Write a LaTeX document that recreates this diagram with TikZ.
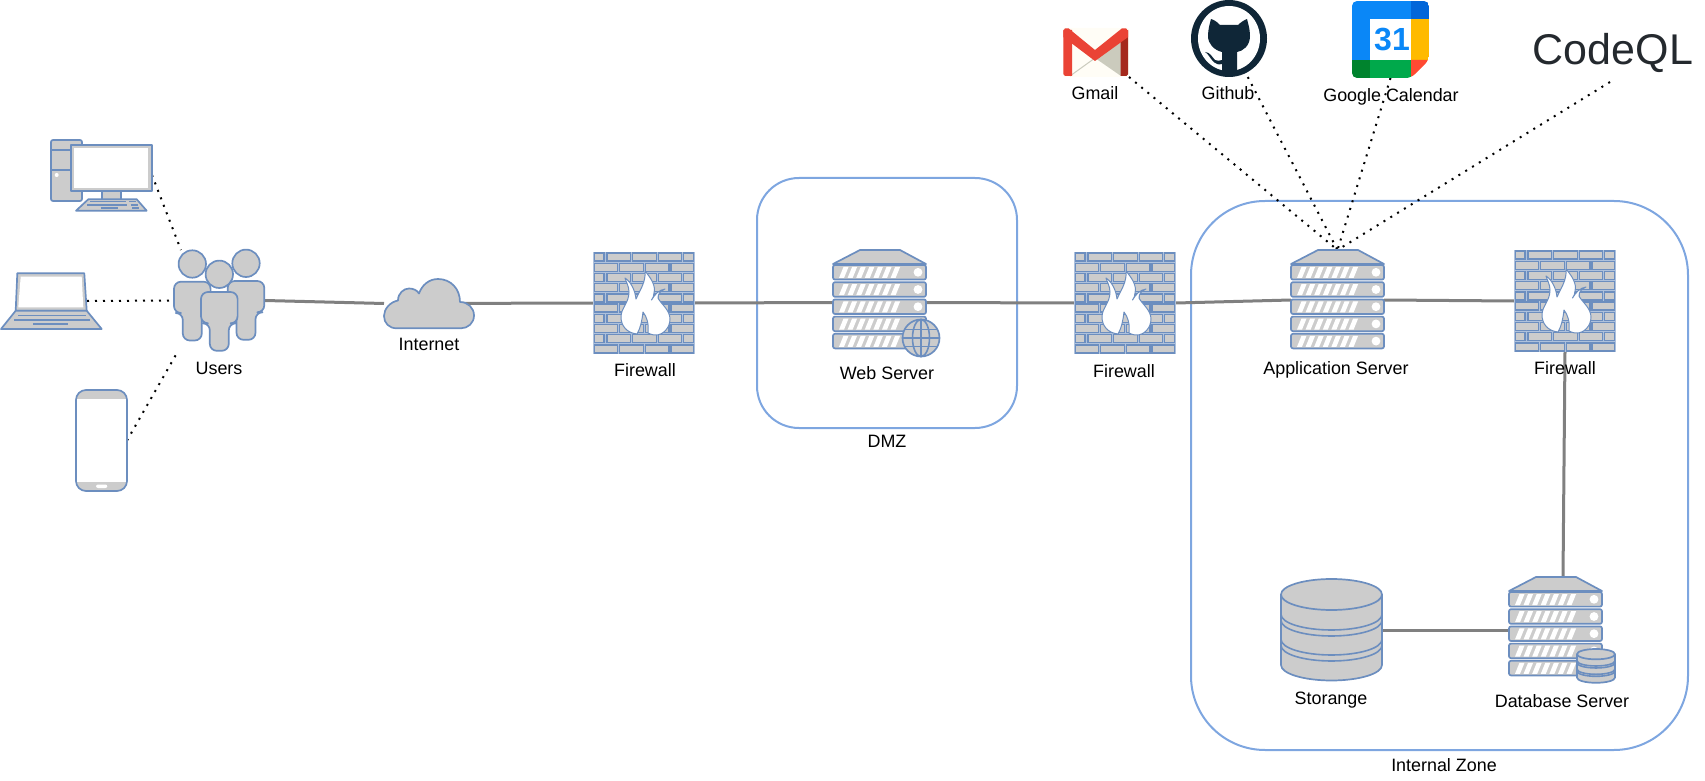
\documentclass[tikz,border=0pt]{standalone}
\usepackage{fontspec}
\setmainfont{Liberation Sans}
\usetikzlibrary{fit,calc}
\definecolor{zoneblue}{HTML}{7EA6E0}
\definecolor{iconblue}{HTML}{6C8EBF}
\definecolor{icongrey}{HTML}{CCCCCC}
\definecolor{linkgrey}{HTML}{808080}
\definecolor{ghdark}{HTML}{0F2637}
\definecolor{qlcolor}{HTML}{24292E}
\definecolor{gmred}{HTML}{EA4335}
\definecolor{gmdark}{HTML}{A5291C}
\definecolor{gmcream}{HTML}{FFFDF6}
\definecolor{gmgrey}{HTML}{CBCBBD}
\definecolor{calblue}{HTML}{0A87F7}
\definecolor{caldark}{HTML}{0266D9}
\definecolor{calyellow}{HTML}{FFBA00}
\definecolor{calgreen}{HTML}{00A94B}
\definecolor{caldgreen}{HTML}{00832D}
\definecolor{calred}{HTML}{FF4A32}
\tikzset{
  zone/.style={draw=zoneblue,line width=1pt,rounded corners=#1},
  iconbox/.style={inner sep=0pt,outer sep=0pt},
  lbl/.style={font=\fontsize{8.95}{10}\selectfont,text=black,inner sep=0pt},
  link/.style={draw=linkgrey,line width=1.5pt},
  dots/.style={draw=black,line width=1pt,dash pattern=on 1pt off 3pt},
  ic/.style={draw=iconblue,line width=.85pt,fill=icongrey,line join=round},
  brick/.style={draw=iconblue,line width=.75pt,fill=icongrey},
  ibar/.style={draw=iconblue,line width=.8pt},
}
% firewall icon: 102 x 102
\newcommand{\fwicon}[2]{%
\begin{scope}[shift={(#1,#2)}]
  \fill[iconblue!55!white] (0,0) rectangle (102,102);
  \foreach \r in {0,2,4,6,8}{%
    \foreach \a/\b in {1.5/11,14/37.5,39.5/63.5,65.5/88.5,90.5/100.5}
      \path[brick] (\a,{1.1+10.2*\r}) rectangle (\b,{9.1+10.2*\r});
    \foreach \a/\b in {1.5/24.5,26.5/50.5,52.5/76,78/100.5}
      \path[brick] (\a,{11.3+10.2*\r}) rectangle (\b,{19.3+10.2*\r});
  }
  \filldraw[fill=white,draw=iconblue,line width=.5pt,line join=round]
    (44,82) .. controls (34,81) and (28,74) .. (28,65)
    .. controls (28,56) and (36,51) .. (36,40)
    .. controls (36,34) and (33,30) .. (32,26)
    .. controls (38,30) and (42,38) .. (43,47)
    .. controls (47,38) and (53,30) .. (52,19)
    .. controls (58,26) and (63,34) .. (61,41)
    .. controls (61,44) and (60,46) .. (58.5,48)
    .. controls (62,42) and (66,38) .. (72,37)
    .. controls (68,39) and (65,41) .. (65,46)
    .. controls (68,52) and (77,58) .. (77,67)
    .. controls (77,76) and (70,83) .. (63,83)
    .. controls (59,83) and (57,82) .. (55,81)
    .. controls (56,72) and (54,65) .. (50,60)
    .. controls (49,68) and (48,75) .. (44,82) -- cycle;
\end{scope}}
% server icon: 93 x 100
\newcommand{\srvicon}[2]{%
\begin{scope}[shift={(#1,#2)}]
  \path[ic] (27,0) -- (67,0) -- (93,14) -- (0,14) -- cycle;
  \foreach \s in {15,32.2,49.4,66.6,83.8}{%
    \path[ic,rounded corners=1pt] (0,\s) rectangle (93,\s+14.6);
    \foreach \i in {0,...,6}
      \fill[white] ({6+8.6*\i},\s+13) -- ({10.5+8.6*\i},\s+2) -- ({15.5+8.6*\i},\s+2) -- ({11+8.6*\i},\s+13) -- cycle;
    \fill[white] (85,\s+7.3) circle[radius=4.4];
  }
\end{scope}}
\newcommand{\halfarc}[1]{(0,#1) .. controls (0,#1+8.6) and (22.7,#1+15.5) .. (50.5,#1+15.5) .. controls (78.3,#1+15.5) and (101,#1+8.6) .. (101,#1)}
% stack icon: local size 101 x 102
\newcommand{\stackicon}[4]{%
\begin{scope}[shift={(#1,#2)},xscale=#3,yscale=#4]
  \path[ic] (0,15.5) -- (0,86) .. controls (0,94.6) and (22.7,101.5) .. (50.5,101.5) .. controls (78.3,101.5) and (101,94.6) .. (101,86) -- (101,15.5) -- cycle;
  \path[ic] (50.5,15.5) ellipse (50.5 and 15.5);
  \draw[ibar] \halfarc{35.5};
  \draw[ibar] \halfarc{41.5};
  \draw[ibar] \halfarc{60.5};
  \draw[ibar] \halfarc{66.5};
\end{scope}}
\newcommand{\personicon}[2]{%
  \path[ic,rounded corners=3.5pt] (#1-18.3,#2+17.7) -- (#1+18.3,#2+17.7) -- (#1+18.3,#2+49) -- (#1+9.5,#2+49) -- (#1+9.5,#2+76.5) -- (#1-9.5,#2+76.5) -- (#1-9.5,#2+49) -- (#1-18.3,#2+49) -- cycle;
  \path[ic] (#1,#2) circle[radius=13.7];}
\begin{document}
\begin{tikzpicture}[x=0.5pt,y=-0.5pt]
\useasboundingbox (0,0) rectangle (1705,781);
% zones
\node[iconbox,fit={(757,178)(1017,428)}] (dmz) {};
\node[iconbox,fit={(1191,201)(1688,750)}] (internal) {};
\draw[zone=21pt] (dmz.north west) rectangle (dmz.south east);
\draw[zone=37pt] (internal.north west) rectangle (internal.south east);
% icon boxes
\node[iconbox,fit={(50,139)(152,211)}] (desktop) {};
\node[iconbox,fit={(1,273)(102,329)}] (laptop) {};
\coordinate (laptopedge) at (87,301);
\node[iconbox,fit={(76,390)(127,491)}] (phone) {};
\node[iconbox,fit={(173,250)(265,351)}] (users) {};
\node[iconbox,fit={(384,279)(474,328)}] (cloud) {};
\node[iconbox,fit={(593,252)(695,354)}] (fwa) {};
\node[iconbox,fit={(833,250)(927,355)}] (web) {};
\node[iconbox,fit={(1074,252)(1176,354)}] (fwb) {};
\node[iconbox,fit={(1291,250)(1384,350)}] (app) {};
\node[iconbox,fit={(1514,250)(1616,352)}] (fwc) {};
\node[iconbox,fit={(1509,583)(1602,677)}] (db) {};
\coordinate (dbtop) at (1563,578);
\node[iconbox,fit={(1281,579)(1382,681)}] (store) {};
\node[iconbox,fit={(1063,28)(1129,77)}] (gmail) {};
\node[iconbox,fit={(1191,0)(1267,77)}] (github) {};
\node[iconbox,fit={(1352,1)(1429,78)}] (calendar) {};
\node[inner sep=0pt,text=qlcolor,font=\fontsize{21.5}{24}\selectfont] (codeql) at (1613,53) {CodeQL};
\coordinate (codeqlfoot) at (1610,82);
% connectors
\draw[link] (users.east) -- (cloud.west);
\draw[link] (cloud.center) -- (fwa.west);
\draw[link] (fwa.east) -- (web.west);
\draw[link] (web.east) -- (fwb.west);
\draw[link] (fwb.east) -- (app.west);
\draw[link] (app.east) -- (fwc.west);
\draw[link] (fwc.south) -- (dbtop);
\draw[link] (store.east) -- (db.west);
\draw[dots] (desktop.east) -- (users.127);
\draw[dots] (laptopedge) -- (users.west);
\draw[dots] (phone.east) -- (users.231);
\draw[dots] (gmail.south east) -- (app.north);
\draw[dots] (github.-64) -- (app.north);
\draw[dots] (calendar.south) -- (app.north);
\draw[dots] (codeqlfoot) -- (app.north);
% desktop
\path[ic,rounded corners=1pt] (51,140) rectangle (82,201);
\draw[ibar] (51,150) -- (71,150) (51,170) -- (71,170);
\fill[white] (56.7,175) circle[radius=2];
\path[ic] (101.7,190) rectangle (120.7,199.5);
\path[ic] (71,145) rectangle (152,190.7);
\fill[white] (74,147.7) rectangle (148,188.3);
\path[ic] (88.3,199.3) -- (136.7,199.3) -- (146.7,210.7) -- (76,210.7) -- cycle;
\draw[ibar] (90,201.7) -- (126,201.7) (129.3,201.7) -- (136,201.7) (87.3,205) -- (126.7,205) (130.7,205) -- (138.3,205) (100.7,208) -- (118.3,208) (132.3,208) -- (139.3,208);
% laptop
\path[ic] (17.3,273.3) -- (84.3,273.3) -- (86.7,310.7) -- (15.7,310.7) -- cycle;
\fill[white] (20.7,276.7) -- (81.7,276.7) -- (83.3,307.3) -- (18.3,307.3) -- cycle;
\path[ic] (15.7,310.7) -- (86.7,310.7) -- (101.7,329) -- (1,329) -- cycle;
\draw[ibar] (18.3,315.3) -- (86,315.3) (14,320) -- (90,320) (33.3,324) -- (67.7,324);
% phone
\path[ic,rounded corners=5pt] (76,390) rectangle (127,491);
\fill[white] (77,399.3) rectangle (126,481.7);
\draw[ibar] (76,400) -- (76,481) (127,400) -- (127,481);
\fill[white,rounded corners=1pt] (96,484.5) rectangle (107.3,488);
% users
\personicon{192.3}{264}
\personicon{246}{263.3}
\personicon{219.3}{274.3}
% cloud
\path[ic] (396.7,328.3) .. controls (389,328.3) and (384,323) .. (384,316) .. controls (384,309) and (390,302) .. (398,300.5) .. controls (398,293) and (404,288.5) .. (409,288.5) .. controls (413,288.5) and (417,290) .. (419,293.5) .. controls (422,285) and (429,279) .. (438,279) .. controls (451,279) and (460,289) .. (460,302) .. controls (468,302) and (474,308) .. (474,315.5) .. controls (474,323) and (468,328.3) .. (461,328.3) -- cycle;
% firewalls and servers
\fwicon{593}{252}
\fwicon{1074}{252}
\fwicon{1514}{250}
\srvicon{833}{250}
\srvicon{1291}{250}
\srvicon{1509}{577}
% globe
\begin{scope}[shift={(921,338)}]
  \path[ic] (0,0) circle[radius=18.5];
  \draw[ibar] (0,0) ellipse (8.5 and 18.5);
  \draw[ibar] (-18.5,0) -- (18.5,0) (0,-18.5) -- (0,18.5) (-16.5,-8.5) -- (16.5,-8.5) (-16.5,8.5) -- (16.5,8.5);
\end{scope}
% storage and mini cylinder
\stackicon{1281}{579}{1}{1}
\stackicon{1577}{649}{.376}{.333}
% gmail
\fill[gmcream,rounded corners=1pt] (1063,28) rectangle (1129,77);
\fill[gmgrey] (1095,58) -- (1121,38) -- (1121,76) -- cycle;
\draw[gmgrey,line width=.5pt] (1070,76) -- (1095,58);
\fill[gmred] (1063.3,30) -- (1072,30) -- (1072,76) -- (1065,76) -- (1063.3,74) -- cycle;
\fill[gmdark] (1120.6,34) -- (1128.2,30) -- (1128.2,74) -- (1126.5,76) -- (1120.6,76) -- cycle;
\fill[gmred] (1063.3,31) -- (1065,28.3) -- (1068.5,28.3) -- (1095,50) -- (1122,28.3) -- (1126,28.3) -- (1128.2,31) -- (1128.2,37) -- (1095,61) -- (1063.3,37) -- cycle;
% github
\fill[ghdark] (1229,38.5) ellipse (38 and 38.5);
\fill[white] (1229,38.5) ellipse (31 and 32.5);
\fill[ghdark] (1211,19) .. controls (1215,20) and (1218,23) .. (1220,25) -- (1238,25) .. controls (1240,23) and (1244,20) .. (1247,19) .. controls (1248,23) and (1250,29) .. (1250,36) .. controls (1250,46) and (1243,51) .. (1237,52) -- (1237,75) -- (1222,75) -- (1222,64) .. controls (1215,66) and (1212,60) .. (1209,56) .. controls (1207,53) and (1205,52) .. (1205,52) .. controls (1210,52) and (1212,57) .. (1215,60) .. controls (1217,61) and (1220,61) .. (1222,60) -- (1222,52) .. controls (1214,50) and (1208,44) .. (1208,36) .. controls (1208,29) and (1210,23) .. (1211,19) -- cycle;
% calendar
\begin{scope}
  \clip[rounded corners=2.5pt] (1352,1) -- (1429,1) -- (1429,60) -- (1411,78) -- (1352,78) -- cycle;
  \fill[calblue] (1352,1) rectangle (1411,60);
  \fill[caldark] (1411,1) rectangle (1429,19);
  \fill[calyellow] (1411,19) rectangle (1429,60);
  \fill[calgreen] (1370,60) rectangle (1411,78);
  \fill[caldgreen] (1352,60) rectangle (1370,78);
  \fill[calred] (1411,60) -- (1429,60) -- (1411,78) -- cycle;
  \fill[white] (1370,19) rectangle (1411,60);
\end{scope}
\node[inner sep=0pt,text=calblue,font=\bfseries\fontsize{16}{20}\selectfont] (calnum) at (1392,40) {31};
% labels
\node[lbl] (tgmail) at (1095,93) {Gmail};
\node[lbl] (tgithub) at (1228,93) {Github};
\node[lbl] (tcal) at (1391,97) {Google Calendar};
\node[lbl] (tusers) at (219,368) {Users};
\node[lbl] (tnet) at (429,344) {Internet};
\node[lbl] (tfwa) at (645,370) {Firewall};
\node[lbl] (tweb) at (887,373) {Web Server};
\node[lbl] (tdmz) at (887,441) {DMZ};
\node[lbl] (tfwb) at (1124,371) {Firewall};
\node[lbl] (tapp) at (1336,370) {Application Server};
\node[lbl] (tfwc) at (1565,368) {Firewall};
\node[lbl] (tstore) at (1331,700) {Storange};
\node[lbl] (tdb) at (1562,701) {Database Server};
\node[lbl] (tint) at (1444,765) {Internal Zone};
\end{tikzpicture}
\end{document}
